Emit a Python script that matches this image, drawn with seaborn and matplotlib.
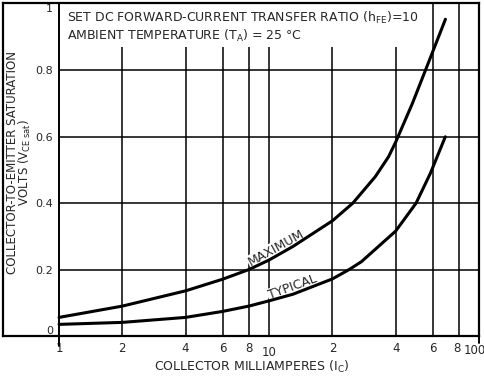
import numpy as np
import pandas as pd
import seaborn as sns
import matplotlib.pyplot as plt
import matplotlib.transforms as mtransforms

# values (collector mA vs VCE sat volts)
ic_max = [1, 2, 4, 6, 8, 10, 13, 20, 25, 32, 37, 40, 48, 57, 69]
vce_max = [0.056, 0.090, 0.136, 0.171, 0.200, 0.229, 0.270, 0.347, 0.400, 0.480, 0.540, 0.584, 0.700, 0.820, 0.954]

ic_typ = [1, 2, 4, 6, 8, 10, 13, 20, 24, 27.5, 40, 50, 58.5, 68.9]
vce_typ = [0.035, 0.041, 0.056, 0.074, 0.090, 0.106, 0.126, 0.172, 0.200, 0.224, 0.316, 0.400, 0.490, 0.600]

x_ticks = [1, 2, 4, 6, 8, 10, 20, 40, 60, 80, 100]
x_labels = ['1', '2', '4', '6', '8', '10', '2', '4', '6', '8', '100']
y_ticks = [0, 0.2, 0.4, 0.6, 0.8, 1]
y_labels = ['0', '0.2', '0.4', '0.6', '0.8', '1']
short_grid = [2, 4, 6, 8, 10, 20, 40]
full_grid = [60, 80]

df = pd.concat([
    pd.DataFrame({'ic': ic_max, 'vce': vce_max, 'curve': 'MAXIMUM'}),
    pd.DataFrame({'ic': ic_typ, 'vce': vce_typ, 'curve': 'TYPICAL'}),
])

sns.set_style('white')
plt.rcParams['font.family'] = ['DejaVu Sans']
plt.rcParams['mathtext.default'] = 'regular'

fig = plt.figure(figsize=(4.85, 3.78), dpi=100)
ax = fig.add_axes([3.3 / 485, 42 / 378, 476 / 485, 333 / 378])

sns.lineplot(data=df, x='ic', y='vce', units='curve', estimator=None,
             color='black', lw=2.2, ax=ax, zorder=3, sort=False)

ax.set_xscale('log')
ax.set_xlim(0.543, 100)
ax.set_ylim(0, 1.003)

# grid
ax.axvline(1, ymin=-0.03, ymax=1, color='black', lw=1.4, clip_on=False)
ax.axvline(100, ymin=-0.02, ymax=0, color='black', lw=1.4, clip_on=False)
ax.vlines(short_grid, 0, 0.87, color='black', lw=1.1)
ax.vlines(full_grid, 0, 1.003, color='black', lw=1.1)
ax.hlines(y_ticks[1:-1], 1, 100, color='black', lw=1.1)

for s in ax.spines.values():
    s.set_color('black')
    s.set_linewidth(1.6)

fs = 8.5
ax.set_xticks(x_ticks)
ax.set_xticklabels(x_labels, fontsize=fs)
ax.xaxis.set_minor_locator(plt.NullLocator())
ax.tick_params(axis='x', length=0, pad=4)
xl = ax.get_xticklabels()
xl[-1].set_transform(xl[-1].get_transform() + mtransforms.ScaledTranslation(-5 / 100, -2 / 100, fig.dpi_scale_trans))
xl[5].set_transform(xl[5].get_transform() + mtransforms.ScaledTranslation(0, -4 / 100, fig.dpi_scale_trans))
xl[-2].set_transform(xl[-2].get_transform() + mtransforms.ScaledTranslation(-2 / 100, 0, fig.dpi_scale_trans))

ax.set_yticks(y_ticks)
ax.set_yticklabels(y_labels, fontsize=8)
ax.tick_params(axis='y', length=0, pad=-36)
for t in ax.get_yticklabels():
    t.set_horizontalalignment('right')
ax.get_yticklabels()[0].set_verticalalignment('bottom')
ax.get_yticklabels()[-1].set_verticalalignment('top')

ax.set_xlabel('COLLECTOR MILLIAMPERES (I$_{C}$)', fontsize=9)
ax.xaxis.set_label_coords(0.522, -0.068)
ax.set_ylabel('')
ax.text(0.034, 0.52, 'COLLECTOR-TO-EMITTER SATURATION\nVOLTS (V$_{CE\\ sat}$)',
        transform=ax.transAxes, rotation=90, ha='center', va='center',
        fontsize=8.5, linespacing=0.9)

ax.text(0.133, 0.978, 'SET DC FORWARD-CURRENT TRANSFER RATIO (h$_{FE}$)=10\n'
        'AMBIENT TEMPERATURE (T$_{A}$) = 25 °C',
        transform=ax.transAxes, ha='left', va='top', fontsize=9, linespacing=1.1)

ax.text(10.8, 0.265, 'MAXIMUM', rotation=29, ha='center', va='center', fontsize=9,
        zorder=2.5, bbox=dict(fc='white', ec='none', pad=0.5))
ax.text(12.9, 0.146, 'TYPICAL', rotation=20, ha='center', va='center', fontsize=9,
        zorder=2.5, bbox=dict(fc='white', ec='none', pad=0.5))

fig.savefig('out.png', dpi=100)
